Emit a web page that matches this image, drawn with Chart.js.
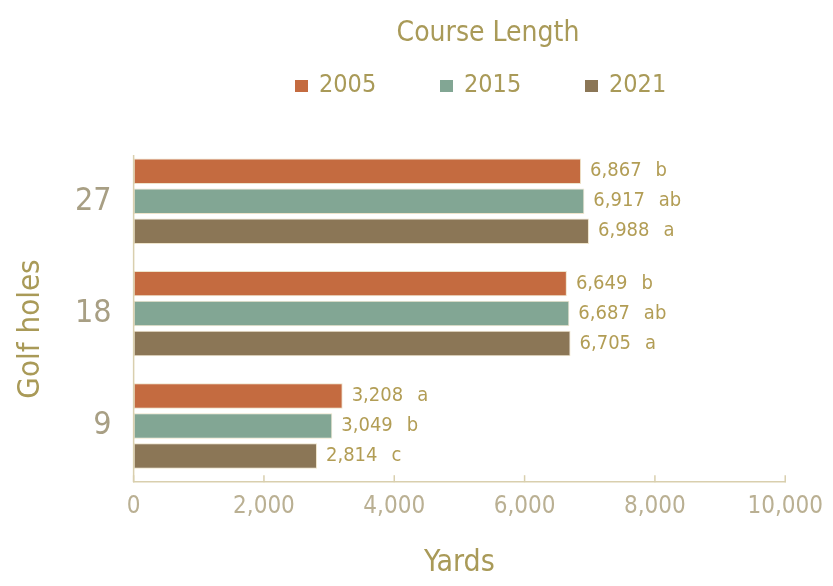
<!DOCTYPE html>
<html>
<head>
<meta charset="utf-8">
<script src="https://cdn.jsdelivr.net/npm/chart.js@4"></script>
<style>
  body { margin: 0; background: #fff; }
  #wrap { width: 833px; height: 586px; }
</style>
</head>
<body>
<div id="wrap"><canvas id="course-length"></canvas></div>
<script>
const holes = ['27', '18', '9'];
const years = ['2005', '2015', '2021'];
const yards2005 = [6867, 6649, 3208];
const yards2015 = [6917, 6687, 3049];
const yards2021 = [6988, 6705, 2814];
const letters2005 = ['b', 'b', 'a'];
const letters2015 = ['ab', 'ab', 'b'];
const letters2021 = ['a', 'a', 'c'];
const xTicks = [0, 2000, 4000, 6000, 8000, 10000];

const colors = ['#c46b40', '#82a694', '#8b7656'];
const fontFam = '"DejaVu Sans Condensed", "Liberation Sans", sans-serif';
const gold = '#a99a58';
const axisColor = '#d9cfae';

// title, legend and y axis title drawn in the space kept free round the plot
const header = {
  id: 'header',
  afterDraw(chart) {
    const ctx = chart.ctx;
    ctx.save();
    ctx.fillStyle = gold;
    ctx.textBaseline = 'middle';
    ctx.textAlign = 'center';
    ctx.font = '28px ' + fontFam;
    ctx.fillText('Course Length', 488, 34);
    ctx.textAlign = 'left';
    ctx.font = '25px ' + fontFam;
    chart.data.datasets.forEach((ds, i) => {
      const x = 295 + i * 145;
      ctx.fillStyle = ds.backgroundColor;
      ctx.fillRect(x, 80, 13, 12);
      ctx.fillStyle = gold;
      ctx.fillText(ds.label, x + 24, 85);
    });
    ctx.translate(31, 329);
    ctx.rotate(-Math.PI / 2);
    ctx.textAlign = 'center';
    ctx.fillStyle = gold;
    ctx.font = '31px ' + fontFam;
    ctx.fillText('Golf holes', 0, 0);
    ctx.restore();
  }
};

// value + letter next to each bar
const barLabels = {
  id: 'barLabels',
  afterDatasetsDraw(chart) {
    const ctx = chart.ctx;
    ctx.save();
    ctx.font = '20px ' + fontFam;
    ctx.fillStyle = '#b29d55';
    ctx.textBaseline = 'middle';
    ctx.textAlign = 'left';
    chart.data.datasets.forEach((ds, i) => {
      chart.getDatasetMeta(i).data.forEach((bar, j) => {
        const txt = ds.data[j].toLocaleString('en-US');
        ctx.fillText(txt, bar.x + 9, bar.y);
        const w = ctx.measureText(txt).width;
        ctx.fillText(ds.letters[j], bar.x + 9 + w + 14, bar.y);
      });
    });
    ctx.restore();
  }
};

// y axis line and short tick marks pointing up from the x axis
const axisMarks = {
  id: 'axisMarks',
  afterDraw(chart) {
    const ctx = chart.ctx;
    const xs = chart.scales.x;
    const a = chart.chartArea;
    ctx.save();
    ctx.strokeStyle = axisColor;
    ctx.lineWidth = 1.5;
    ctx.beginPath();
    ctx.moveTo(a.left, a.top + 10);
    ctx.lineTo(a.left, a.bottom);
    ctx.stroke();
    xTicks.forEach(v => {
      const x = xs.getPixelForValue(v);
      ctx.beginPath();
      ctx.moveTo(x, a.bottom);
      ctx.lineTo(x, a.bottom - 7);
      ctx.stroke();
    });
    ctx.restore();
  }
};

new Chart(document.getElementById('course-length'), {
  type: 'bar',
  data: {
    labels: holes,
    datasets: [
      { label: years[0], data: yards2005, letters: letters2005, backgroundColor: colors[0] },
      { label: years[1], data: yards2015, letters: letters2015, backgroundColor: colors[1] },
      { label: years[2], data: yards2021, letters: letters2021, backgroundColor: colors[2] }
    ].map(d => Object.assign(d, { borderColor: '#eee4cb', borderWidth: 1, borderSkipped: false,
                                  categoryPercentage: 0.8, barPercentage: 0.85 }))
  },
  options: {
    indexAxis: 'y',
    responsive: true,
    maintainAspectRatio: false,
    animation: false,
    layout: { padding: { left: 53, right: 34, top: 145, bottom: 5 } },
    plugins: {
      title: { display: false },
      legend: { display: false },
      tooltip: { enabled: false }
    },
    scales: {
      x: {
        min: 0,
        max: 10000,
        afterBuildTicks(axis) { axis.ticks = xTicks.map(v => ({ value: v })); },
        grid: { display: false, drawTicks: false },
        border: { display: true, color: axisColor, width: 1.5 },
        ticks: {
          color: '#bab093',
          font: { family: fontFam, size: 24 },
          padding: 10,
          maxRotation: 0,
          callback: v => v.toLocaleString('en-US')
        },
        title: {
          display: true,
          text: 'Yards',
          color: gold,
          font: { family: fontFam, size: 30 },
          padding: { top: 14, bottom: 0 }
        }
      },
      y: {
        grid: { display: false, drawTicks: false },
        border: { display: false },
        ticks: {
          color: '#a89f84',
          font: { family: fontFam, size: 32 },
          padding: 22
        },
        title: { display: false }
      }
    }
  },
  plugins: [header, barLabels, axisMarks]
});
</script>
</body>
</html>
